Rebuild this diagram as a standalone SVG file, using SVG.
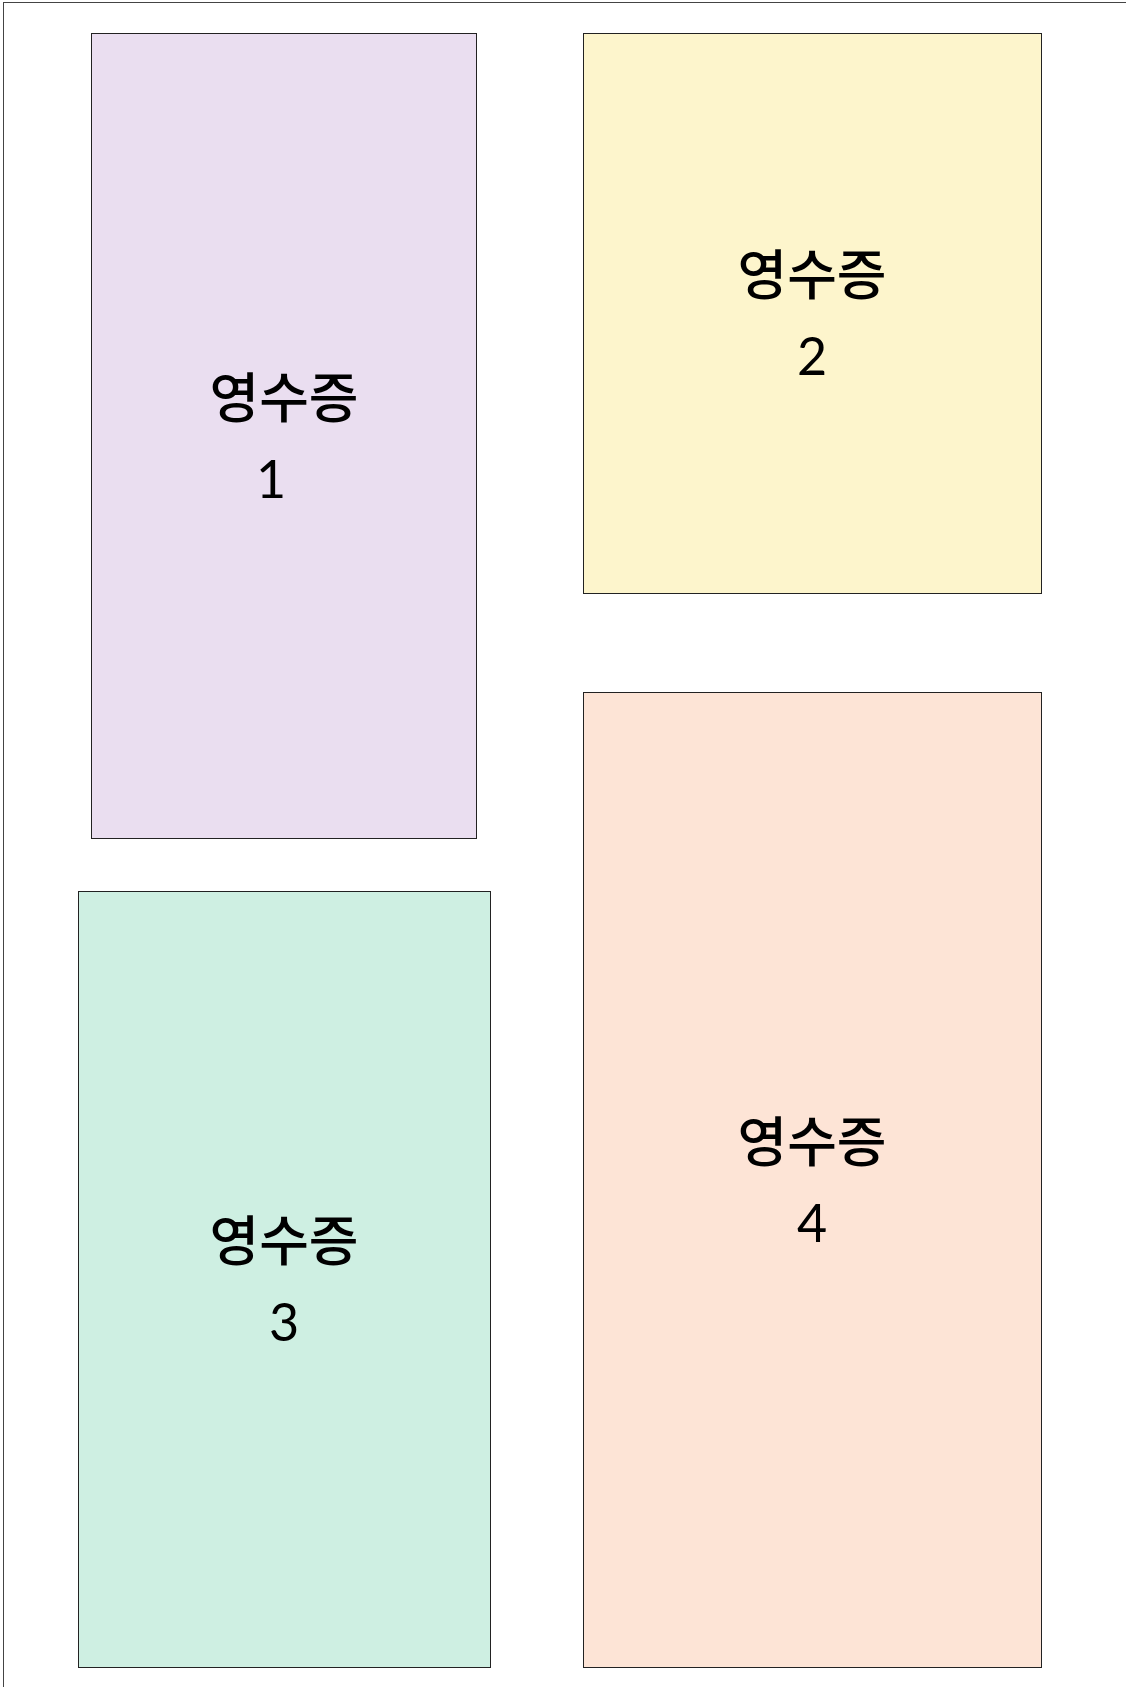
<svg xmlns="http://www.w3.org/2000/svg" width="1126" height="1687" viewBox="0 0 1126 1687">
  <style>
    .box { stroke: #222; stroke-width: 1; }
    .lbl { font-family: "Noto Sans CJK KR", "Noto Sans", sans-serif; fill: #000; text-anchor: middle; }
    .ko { font-size: 54px; font-weight: 500; }
    .num { font-family: Lato, "Noto Sans", sans-serif; font-size: 52px; }
  </style>
  <rect x="0" y="0" width="1126" height="1687" fill="#ffffff"/>
  <g id="frame">
    <rect x="3.5" y="2.5" width="1200" height="1750" fill="none" stroke="#444" stroke-width="1"/>
  </g>
  <g id="connectors"></g>
  <g id="receipt1">
    <rect class="box" x="91.5" y="33.5" width="385" height="805" fill="#eadef0"/>
    <text class="lbl ko" x="284" y="418">영수증</text>
    <text class="lbl num" x="271" y="498">1</text>
  </g>
  <g id="receipt2">
    <rect class="box" x="583.5" y="33.5" width="458" height="560" fill="#fdf5cc"/>
    <text class="lbl ko" x="812" y="295">영수증</text>
    <text class="lbl num" x="812" y="375">2</text>
  </g>
  <g id="receipt3">
    <rect class="box" x="78.5" y="891.5" width="412" height="776" fill="#ceefe2"/>
    <text class="lbl ko" x="284" y="1261">영수증</text>
    <text class="lbl num" x="284" y="1341">3</text>
  </g>
  <g id="receipt4">
    <rect class="box" x="583.5" y="692.5" width="458" height="975" fill="#fde4d6"/>
    <text class="lbl ko" x="812" y="1162">영수증</text>
    <text class="lbl num" x="812" y="1242">4</text>
  </g>
</svg>
